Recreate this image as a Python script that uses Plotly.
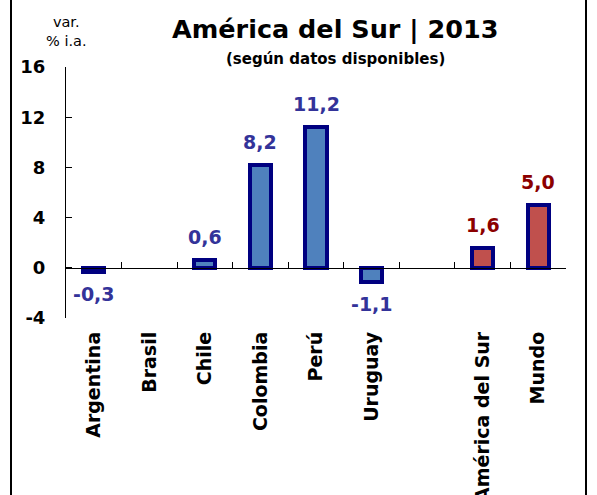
import plotly.graph_objects as go

categories = ["Argentina", "Brasil", "Chile", "Colombia", "Perú", "Uruguay", " ", "América del Sur", "Mundo"]
values = [-0.3, None, 0.6, 8.2, 11.2, -1.1, None, 1.6, 5.0]
groups = ["país", "país", "país", "país", "país", "país", "", "agregado", "agregado"]

y_ticks = [-4, 0, 4, 8, 12, 16]

fill = {"país": "#4F81BD", "agregado": "#C0504D", "": "#4F81BD"}
label_col = {"país": "#333399", "agregado": "#8B0000", "": "#333399"}

FONT = "DejaVu Sans"

fig = go.Figure()
fig.add_trace(go.Bar(
    x=categories, y=values,
    width=0.38,
    marker=dict(color=[fill[g] for g in groups], line=dict(color="#000080", width=4)),
    hoverinfo="skip",
))
# a trace on xaxis2 so that it is drawn
fig.add_trace(go.Scatter(x=[], y=[], xaxis="x2", showlegend=False))

# value labels
annots = []
for c, v, g in zip(categories, values, groups):
    if v is None:
        continue
    annots.append(dict(
        x=c, y=v, xref="x", yref="y", showarrow=False,
        text=f"{v:.1f}".replace(".", ","),
        yanchor="bottom" if v >= 0 else "top",
        yshift=10 if v >= 0 else -9,
        font=dict(family=FONT, size=19, weight="bold", color=label_col[g]),
    ))

annots += [
    dict(text="América del Sur | 2013", xref="paper", yref="paper", x=0.538, y=1.15,
         xanchor="center", yanchor="middle", showarrow=False,
         font=dict(family=FONT, size=25.5, weight="bold", color="black")),
    dict(text="(según datos disponibles)", xref="paper", yref="paper", x=0.538, y=1.03,
         xanchor="center", yanchor="middle", showarrow=False,
         font=dict(family=FONT, size=15, weight="bold", color="black")),
    dict(text="var.<br>% i.a.", xref="paper", yref="paper", x=0.0, y=1.14,
         xanchor="center", yanchor="middle", showarrow=False, align="center",
         font=dict(family=FONT, size=14.5, color="black")),
]

fig.update_layout(
    template="none",
    width=597, height=495,
    margin=dict(l=66, r=31, t=67, b=177),
    paper_bgcolor="white", plot_bgcolor="white",
    showlegend=False, bargap=0,
    font=dict(family=FONT, color="black"),
    xaxis=dict(
        type="category", categoryarray=categories, range=[-0.5, 8.5],
        showline=False, showgrid=False, zeroline=False, ticks="",
        tickangle=-90, ticklabelstandoff=9, automargin=False,
        tickfont=dict(family=FONT, size=19, weight="bold", color="black"),
    ),
    xaxis2=dict(
        overlaying="x", anchor="free", position=0.2, side="bottom",
        range=[-0.5, 8.5], showline=True, linecolor="black", linewidth=1,
        tickmode="array", tickvals=[i + 0.5 for i in range(9)],
        ticks="inside", ticklen=6, tickcolor="black", tickwidth=1, showticklabels=False,
        showgrid=False, zeroline=False, automargin=False,
    ),
    yaxis=dict(
        range=[-4, 16], tickmode="array", tickvals=y_ticks,
        ticktext=[str(t) for t in y_ticks],
        showline=True, linecolor="black", linewidth=1,
        ticks="inside", ticklen=6, tickcolor="black", tickwidth=1,
        showgrid=False, zeroline=False, ticklabelstandoff=16, automargin=False,
        tickfont=dict(family=FONT, size=18, weight="bold", color="black"),
    ),
    annotations=annots,
    shapes=[
        dict(type="line", xref="paper", yref="paper", x0=-0.11, x1=-0.11, y0=-1, y1=2,
             line=dict(color="black", width=2)),
        dict(type="line", xref="paper", yref="paper", x0=1.04, x1=1.04, y0=-1, y1=2,
             line=dict(color="black", width=2)),
    ],
)

# page body has a default 8px margin; remove it so the figure sits at the window origin
fig.write_html("out.html", config={"displayModeBar": False},
               post_script="document.body.style.margin='0';")
